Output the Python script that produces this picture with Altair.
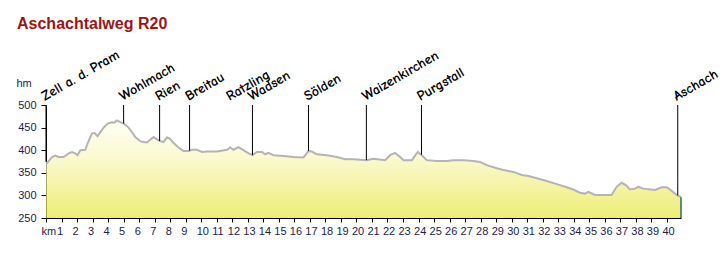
import altair as alt
import pandas as pd

# ---- profile data (km, elevation in m) ----
km = [0.00, 0.08, 0.39, 0.60, 0.81, 1.13, 1.46, 1.67, 1.89, 2.03, 2.21, 2.53, 2.68, 2.96, 3.13,
      3.32, 3.50, 3.71, 3.97, 4.25, 4.40, 4.57, 4.78, 5.00, 5.32, 5.54, 5.75, 6.07, 6.28, 6.50,
      6.67, 6.93, 7.15, 7.36, 7.57, 7.79, 7.96, 8.22, 8.54, 8.86, 9.18, 9.40, 9.72, 10.05, 10.37,
      11.01, 11.66, 11.87, 12.08, 12.40, 12.72, 13.05, 13.30, 13.59, 13.91, 14.12, 14.33, 14.66,
      15.30, 15.94, 16.59, 16.91, 17.13, 17.45, 18.09, 18.74, 19.27, 19.81, 20.67, 21.09, 21.85,
      22.17, 22.49, 22.82, 23.03, 23.57, 23.95, 24.21, 24.53, 25.18, 25.82, 26.25, 26.89, 27.53,
      27.96, 28.40, 29.04, 29.47, 30.11, 30.65, 31.08, 31.62, 32.26, 32.91, 33.55, 33.97, 34.40,
      34.72, 34.94, 35.37, 35.90, 36.44, 36.76, 37.08, 37.36, 37.62, 37.94, 38.16, 38.48, 39.23,
      39.66, 39.99, 40.31, 40.63, 40.91]
elev = [374, 372, 385, 388, 385, 385, 393, 396, 393, 389, 400, 401, 415, 437, 438,
        431, 440, 450, 459, 462, 461, 466, 462, 459, 450, 440, 429, 420, 418, 417,
        422, 429, 424, 420, 418, 428, 426, 416, 406, 398, 398, 401, 401, 396, 397,
        397, 401, 406, 401, 407, 400, 393, 389, 396, 396, 391, 394, 389,
        387, 385, 384, 398, 397, 391, 389, 385, 380, 380, 378, 381, 378,
        389, 394, 385, 378, 378, 396, 389, 378, 376, 376, 378, 378, 376,
        374, 367, 360, 356, 352, 345, 343, 338, 332, 325, 318, 313, 306,
        304, 308, 301, 301, 301, 319, 328, 323, 313, 315, 319, 315, 312,
        318, 318, 310, 301, 296]

# ---- place markers ----
place_names = ["Zell a. d. Pram", "Wohlmach", "Rien", "Breitau", "Ratzling", "Wadsen",
               "Sölden", "Waizenkirchen", "Purgstall", "Aschach"]
place_km = [0.0, 5.0, 7.32, 9.25, 11.9, 13.3, 16.91, 20.64, 24.19, 40.7]
place_elev = [374, 459, 420, 399, None, 389, 398, 378, 390, 300]

x_ticks = list(range(0, 41))
y_ticks = [250, 300, 350, 400, 450, 500]

profile = pd.DataFrame({"km": km, "elev": elev})
places = pd.DataFrame({"name": place_names, "km": place_km, "elev": place_elev})
lines = places.dropna()
end = profile.tail(1)

x_scale = alt.Scale(domain=[0, 40.91], nice=False, zero=False)
y_scale = alt.Scale(domain=[250, 500], nice=False, zero=False)

label_color = "#1c1c4a"

x_axis = alt.Axis(values=x_ticks, title=None, grid=False, domainColor="black",
                  tickColor="black", tickSize=4, labelPadding=3,
                  labelAlign="left", labelOffset=-5, labelFont="Liberation Sans",
                  labelFontSize=11, labelColor=label_color, labelFlush=False,
                  labelOverlap=False,
                  labelExpr="datum.value == 0 ? 'km' : datum.label")
y_axis = alt.Axis(values=y_ticks, title="hm", grid=False, domainColor="black",
                  tickColor="black", tickSize=5, labelPadding=5, labelOverlap=False,
                  labelFont="Liberation Sans", labelFontSize=11,
                  labelColor=label_color, titleAngle=0, titleAlign="left",
                  titleBaseline="middle", titleX=-30, titleY=-22,
                  titleFont="Liberation Sans", titleFontSize=11,
                  titleFontWeight="normal", titleColor=label_color)


def X():
    return alt.X("km:Q", scale=x_scale, axis=x_axis)


def Y():
    return alt.Y("elev:Q", scale=y_scale, axis=y_axis)


area = alt.Chart(profile).mark_area(
    line={"color": "#b4b4b4", "strokeWidth": 2},
    color=alt.Gradient(
        gradient="linear",
        stops=[alt.GradientStop(color="#fffff4", offset=0),
               alt.GradientStop(color="#f8f6b8", offset=0.4),
               alt.GradientStop(color="#e7e63a", offset=1)],
        x1=0, x2=0, y1=0, y2=1),
).encode(x=X(), y=Y(), y2=alt.datum(250))

end_rule = alt.Chart(end).mark_rule(color="#1f6f5f", strokeWidth=1.5).encode(
    x=X(), y=Y(), y2=alt.datum(250))

rules = alt.Chart(lines).mark_rule(color="black", strokeWidth=1).encode(
    x=X(), y=Y(), y2=alt.datum(500))

texts = alt.Chart(places).mark_text(
    angle=330, align="left", baseline="alphabetic", dx=1, dy=-4,
    font="Comic Sans MS, Comic Neue, DejaVu Sans", fontSize=14, fontWeight="bold",
    color="black",
).encode(x=X(), y=alt.YDatum(500, scale=y_scale, axis=y_axis), text="name:N")

chart = alt.layer(area, end_rule, rules, texts).properties(
    width=635, height=113,
    autosize="none",
    padding={"left": 46, "top": 105, "right": 45, "bottom": 36},
    title=alt.TitleParams("Aschachtalweg R20", anchor="start", frame="group",
                          font="Liberation Sans", fontSize=16, fontWeight="bold",
                          color="#a01414", dx=-29, offset=16),
).configure_view(stroke=None)

chart.save("out.html", embed_options={"renderer": "svg", "actions": False})
